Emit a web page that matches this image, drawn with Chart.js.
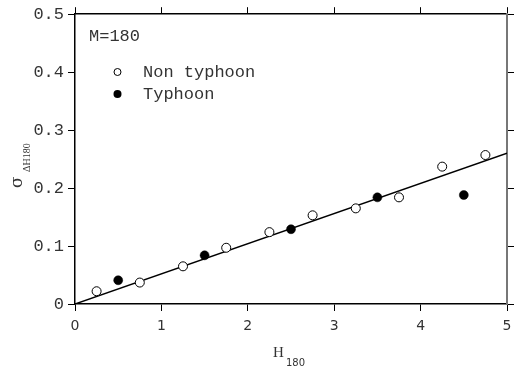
<!DOCTYPE html>
<html lang="en">
<head>
  <meta charset="UTF-8" />
  <title>Sigma vs H180</title>
  <style>
    html, body { margin: 0; padding: 0; background: #fff; }
    #wrap { width: 515px; height: 369px; }
  </style>
</head>
<body>
  <div id="wrap"><canvas id="chart" width="515" height="369"></canvas></div>

  <script src="https://cdn.jsdelivr.net/npm/chart.js"></script>
  <script>
    // data
    const nonTyphoonH = [0.25, 0.75, 1.25, 1.75, 2.25, 2.75, 3.25, 3.75, 4.25, 4.75];
    const nonTyphoonSigma = [0.022, 0.037, 0.065, 0.097, 0.124, 0.153, 0.165, 0.184, 0.237, 0.257];
    const typhoonH = [0.5, 1.5, 2.5, 3.5, 4.5];
    const typhoonSigma = [0.041, 0.084, 0.129, 0.184, 0.188];
    const fitH = [0, 5];
    const fitSigma = [0, 0.26];
    const xTickLabels = ['0', '1', '2', '3', '4', '5'];
    const yTickLabels = ['0', '0.1', '0.2', '0.3', '0.4', '0.5'];

    const toPoints = (xs, ys) => xs.map((x, i) => ({ x: x, y: ys[i] }));

    const mono = 'Liberation Mono, Courier New, monospace';
    const textColor = '#333';

    // axis titles with subscripts, plus the in-plot legend
    const annotations = {
      id: 'annotations',
      afterDraw(chart) {
        const ctx = chart.ctx;
        ctx.save();
        ctx.fillStyle = textColor;

        // x title: H_180
        ctx.textBaseline = 'alphabetic';
        ctx.textAlign = 'left';
        ctx.font = '15px "Liberation Serif", serif';
        ctx.fillText('H', 273, 357);
        ctx.font = '10px "DejaVu Sans", sans-serif';
        ctx.fillText('180', 286, 366);

        // y title: sigma_ΔH180, rotated
        ctx.translate(22, 0);
        ctx.rotate(-Math.PI / 2);
        ctx.font = '17px "DejaVu Serif", serif';
        ctx.fillText('σ', -188, 0);
        ctx.font = '10px "Liberation Serif", serif';
        ctx.fillText('ΔH180', -172, 8);
        ctx.setTransform(1, 0, 0, 1, 0, 0);

        // legend
        ctx.font = '17px ' + mono;
        ctx.textBaseline = 'middle';
        ctx.fillText('M=180', 89, 36);
        ctx.fillText('Non typhoon', 143, 72);
        ctx.fillText('Typhoon', 143, 94);

        ctx.lineWidth = 1;
        ctx.strokeStyle = '#000';
        ctx.beginPath();
        ctx.arc(117.5, 72, 3.5, 0, Math.PI * 2);
        ctx.fillStyle = '#fff';
        ctx.fill();
        ctx.stroke();
        ctx.beginPath();
        ctx.arc(117.5, 94, 4, 0, Math.PI * 2);
        ctx.fillStyle = '#000';
        ctx.fill();
        ctx.restore();
      }
    };

    const tickGrid = {
      display: true,
      drawOnChartArea: false,
      drawTicks: true,
      tickLength: 7,
      color: '#000',
      lineWidth: 1
    };

    new Chart(document.getElementById('chart'), {
      type: 'scatter',
      data: {
        datasets: [
          {
            type: 'line',
            label: 'fit',
            data: toPoints(fitH, fitSigma),
            borderColor: '#000',
            borderWidth: 1.5,
            pointRadius: 0,
            fill: false,
            order: 3
          },
          {
            label: 'Non typhoon',
            data: toPoints(nonTyphoonH, nonTyphoonSigma),
            pointRadius: 4.5,
            pointBackgroundColor: '#fff',
            pointBorderColor: '#000',
            pointBorderWidth: 1,
            order: 1
          },
          {
            label: 'Typhoon',
            data: toPoints(typhoonH, typhoonSigma),
            pointRadius: 4.5,
            pointBackgroundColor: '#000',
            pointBorderColor: '#000',
            pointBorderWidth: 0.5,
            order: 2
          }
        ]
      },
      options: {
        responsive: false,
        animation: false,
        layout: { padding: 0 },
        plugins: {
          legend: { display: false },
          tooltip: { enabled: false }
        },
        scales: {
          x: {
            type: 'linear',
            position: 'bottom',
            min: 0, max: 5,
            grid: tickGrid,
            border: { display: true, color: '#000', width: 1.5 },
            ticks: {
              stepSize: 1,
              padding: 7,
              color: textColor,
              font: { family: 'DejaVu Sans', size: 14 },
              callback: (v) => xTickLabels[Math.round(v)] ?? ''
            },
            afterFit: (s) => { s.height = 65; s.paddingLeft = 0; s.paddingRight = 0; }
          },
          x2: {
            type: 'linear',
            position: 'top',
            min: 0, max: 5,
            grid: tickGrid,
            border: { display: true, color: '#000', width: 1.5 },
            ticks: { stepSize: 1, display: false },
            afterFit: (s) => { s.height = 14; s.paddingLeft = 0; s.paddingRight = 0; }
          },
          y: {
            type: 'linear',
            position: 'left',
            min: 0, max: 0.5,
            grid: tickGrid,
            border: { display: true, color: '#000', width: 1.5 },
            ticks: {
              stepSize: 0.1,
              padding: 4,
              color: textColor,
              font: { family: 'Liberation Mono', size: 17 },
              callback: (v) => yTickLabels[Math.round(v * 10)] ?? ''
            },
            afterFit: (s) => { s.width = 75; }
          },
          y2: {
            type: 'linear',
            position: 'right',
            min: 0, max: 0.5,
            grid: tickGrid,
            border: { display: true, color: '#777', width: 2 },
            ticks: { stepSize: 0.1, display: false },
            afterFit: (s) => { s.width = 8; }
          }
        }
      },
      plugins: [annotations]
    });
  </script>
</body>
</html>
